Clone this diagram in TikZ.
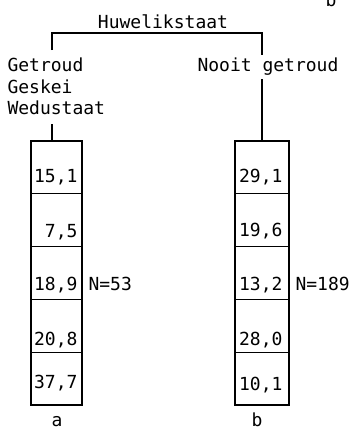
\documentclass[tikz,border=0pt]{standalone}
\usepackage{fontspec}
\setmonofont{DejaVu Sans Mono}
\usepackage{tikz}
\usetikzlibrary{positioning}

\tikzset{
  txt/.style={font=\ttfamily\fontsize{18}{21.5}\selectfont, inner sep=0pt},
  cell/.style={draw, line width=1.2pt, minimum width=51pt, minimum height=52.8pt, inner sep=0pt},
  val/.style={txt, anchor=base east},
}

\begin{document}
\begin{tikzpicture}[x=1pt, y=-1pt, line width=1.1pt]
  \useasboundingbox (0,0) rectangle (349,431);
  \clip (0,0) rectangle (349,431);

  % heading and groups
  \node [txt, anchor=base] (head) at (163,28) {Huwelikstaat};
  \node [txt, anchor=base] (prev) at (331,6) {b};
  \node [txt, anchor=north west, align=left] (married) at (7,57.5) {Getroud\\Geskei\\Wedustaat};
  \node [txt, anchor=base west] (never) at (197,71) {Nooit getroud};
  \coordinate (lt) at (52,50);
  \coordinate (rt) at (262,55);

  % columns
  \foreach \i in {1,...,5} {
    \node [cell] (a\i) at (56.5,{141+52.8*\i-26.4}) {};
    \node [cell, minimum width=54pt] (b\i) at (262,{141+52.8*\i-26.4}) {};
  }
  \foreach \v/\y in {15{,}1/182, 7{,}5/237, 18{,}9/290, 20{,}8/345, 37{,}7/388}
    \node [val] at (78,\y) {\v};
  \foreach \v/\y in {29{,}1/182, 19{,}6/236, 13{,}2/290, 28{,}0/345, 10{,}1/390}
    \node [val] at (283,\y) {\v};
  \node [txt, anchor=base west] (na) at (88,290) {N=53};
  \node [txt, anchor=base west] (nb) at (295,290) {N=189};
  \node [txt, anchor=base] (la) at (57,426) {a};
  \node [txt, anchor=base] (lb) at (257,426) {b};

  % bracket
  \draw (lt) -- ++(0,-17) -| (rt);
  \draw (lt |- a1.north) -- ++(0,-16);
  \draw (b1.north) -- ++(0,-61);
\end{tikzpicture}
\end{document}
